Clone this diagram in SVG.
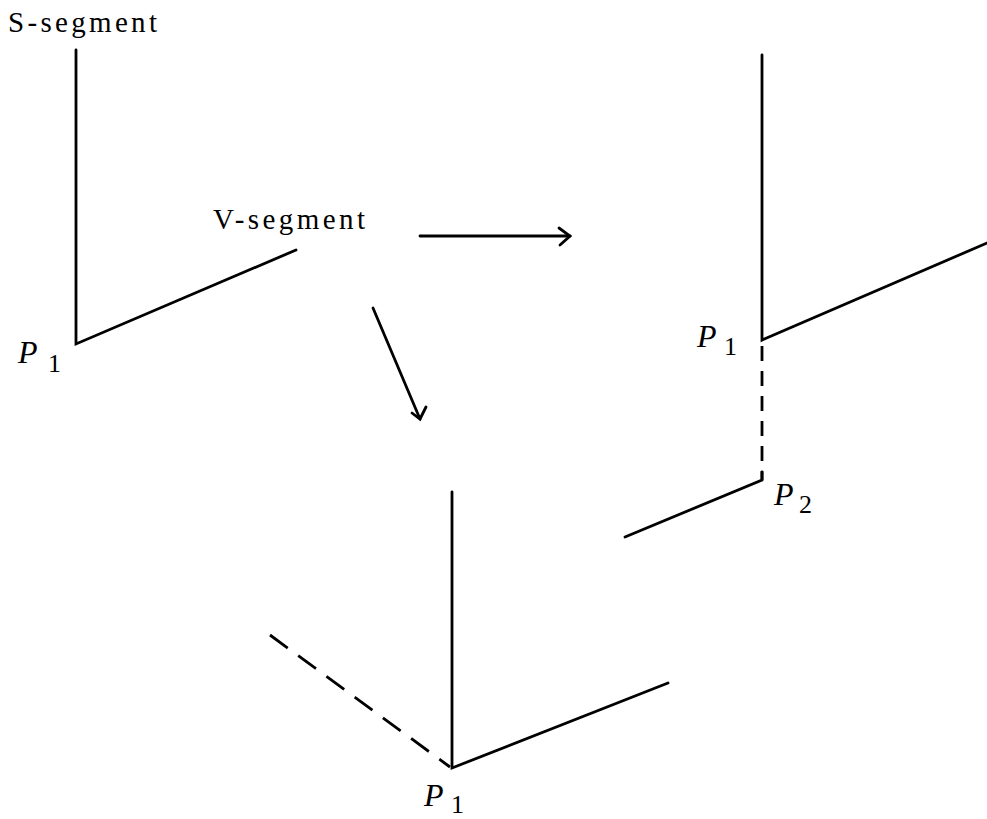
<svg xmlns="http://www.w3.org/2000/svg" width="987" height="819" viewBox="0 0 987 819">
<style>
.s{stroke:#000;stroke-width:2.8;fill:none;stroke-linecap:round;stroke-linejoin:miter}
.d1{stroke-dasharray:15 10;stroke-linecap:butt}
.d2{stroke-dasharray:22 13;stroke-linecap:butt}
.t{font-family:"Liberation Serif","Times New Roman",serif;font-size:29px;fill:#000}
.p{font-family:"Liberation Serif","Times New Roman",serif;font-style:italic;font-size:32px;fill:#000}
.sub{font-family:"Liberation Serif","Times New Roman",serif;font-size:26px;fill:#000}
</style>
<rect width="987" height="819" fill="#fff"/>
<g id="s-segment-label"><text class="t" x="8" y="32" textLength="149" lengthAdjust="spacing">S-segment</text></g>
<g id="v-segment-label"><text class="t" x="213" y="229" textLength="152" lengthAdjust="spacing">V-segment</text></g>
<g id="shape1">
<polyline class="s" points="76,50 76,344 296,250"/>
<text class="p" x="18" y="363">P</text><text class="sub" x="48" y="372">1</text>
</g>
<g id="shape2">
<polyline class="s" points="762,55 762,340 987,243"/>
<line class="s d1" x1="762" y1="346" x2="762" y2="480"/>
<polyline class="s" points="762,472 762,480 625,537"/>
<text class="p" x="697" y="347">P</text><text class="sub" x="724" y="355">1</text>
<text class="p" x="774" y="505">P</text><text class="sub" x="799" y="513">2</text>
</g>
<g id="shape3">
<polyline class="s" points="452,492 452,768 668,683"/>
<line class="s d2" x1="270" y1="635" x2="450" y2="767"/>
<text class="p" x="424" y="806">P</text><text class="sub" x="451" y="813">1</text>
</g>
<g id="connectors">
<line class="s" x1="420" y1="236" x2="570" y2="236"/>
<polyline class="s" points="559,228 570,236 560,245"/>
<line class="s" x1="373" y1="308" x2="420" y2="419"/>
<polyline class="s" points="412,413 420,419 426,407"/>
</g>
</svg>
